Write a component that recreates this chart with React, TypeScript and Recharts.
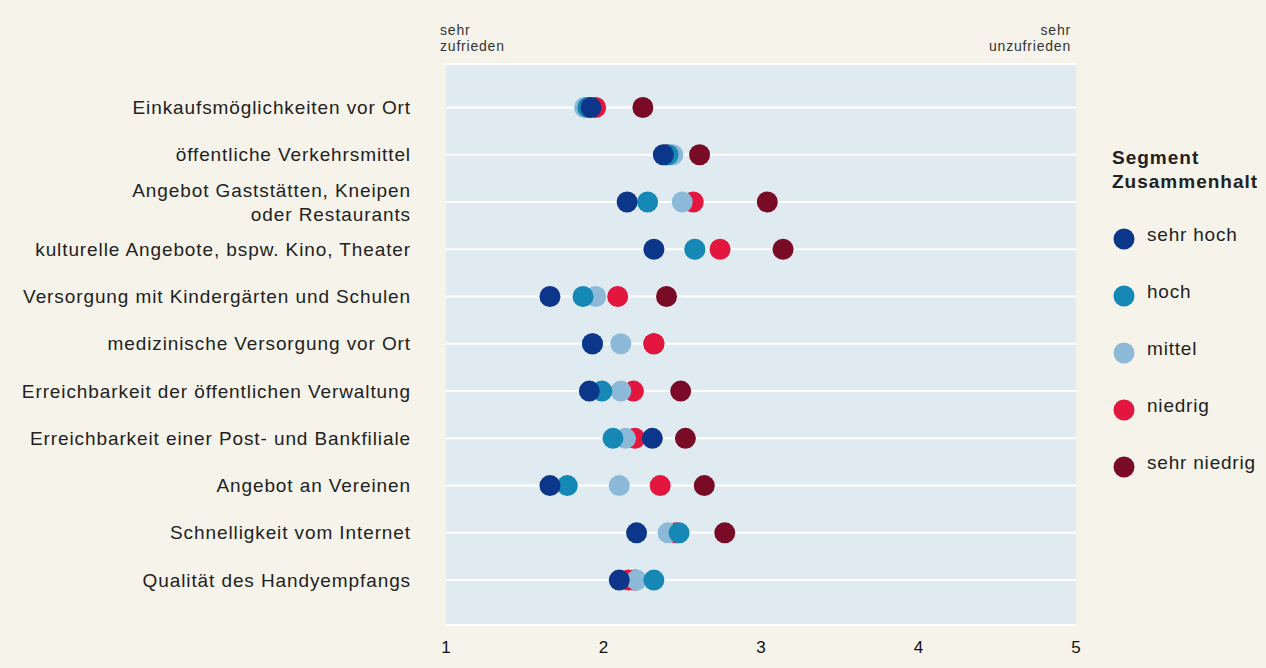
import React from "react";
import { CartesianGrid, Scatter, ScatterChart, XAxis, YAxis } from "recharts";

const categories = [
  "Einkaufsmöglichkeiten vor Ort",
  "öffentliche Verkehrsmittel",
  "Angebot Gaststätten, Kneipen\noder Restaurants",
  "kulturelle Angebote, bspw. Kino, Theater",
  "Versorgung mit Kindergärten und Schulen",
  "medizinische Versorgung vor Ort",
  "Erreichbarkeit der öffentlichen Verwaltung",
  "Erreichbarkeit einer Post- und Bankfiliale",
  "Angebot an Vereinen",
  "Schnelligkeit vom Internet",
  "Qualität des Handyempfangs",
];

const sehrHoch = [1.92, 2.38, 2.15, 2.32, 1.66, 1.93, 1.91, 2.31, 1.66, 2.21, 2.1];
const hoch = [1.9, 2.41, 2.28, 2.58, 1.87, 1.93, 1.99, 2.06, 1.77, 2.48, 2.32];
const mittel = [1.88, 2.44, 2.5, 2.58, 1.95, 2.11, 2.11, 2.14, 2.1, 2.41, 2.21];
const niedrig = [1.95, 2.4, 2.57, 2.74, 2.09, 2.32, 2.19, 2.2, 2.36, 2.46, 2.16];
const sehrNiedrig = [2.25, 2.61, 3.04, 3.14, 2.4, 2.32, 2.49, 2.52, 2.64, 2.77, 2.2];

const xTicks = [1, 2, 3, 4, 5];

// drawn bottom to top
const series = [
  { name: "sehr niedrig", color: "#7a0b26", values: sehrNiedrig },
  { name: "niedrig", color: "#e2163f", values: niedrig },
  { name: "mittel", color: "#8db9d8", values: mittel },
  { name: "hoch", color: "#1688b6", values: hoch },
  { name: "sehr hoch", color: "#0c3689", values: sehrHoch },
];

const legendOrder = ["sehr hoch", "hoch", "mittel", "niedrig", "sehr niedrig"];

const font = "'Liberation Sans', Arial, sans-serif";

const CategoryTick = (props: any) => {
  const { x, y, payload } = props;
  const label = categories[payload.value] ?? "";
  const lines = label.split("\n");
  const lh = 24;
  const start = y - ((lines.length - 1) * lh) / 2;
  return (
    <text
      x={x - 27}
      y={start}
      textAnchor="end"
      fontSize={19}
      letterSpacing={0.9}
      fill="#222"
      fontFamily={font}
    >
      {lines.map((l: string, i: number) => (
        <tspan key={i} x={x - 27} y={start + i * lh} dy="0.35em">
          {l}
        </tspan>
      ))}
    </text>
  );
};

const LegendBox = () => (
  <div
    style={{
      position: "absolute",
      left: 1112,
      top: 146,
      fontFamily: font,
      color: "#222",
    }}
  >
    <div
      style={{ fontWeight: "bold", fontSize: 19, letterSpacing: 1, lineHeight: "24px" }}
    >
      Segment
      <br />
      Zusammenhalt
    </div>
    <div style={{ marginTop: 15 }}>
      {legendOrder.map((n) => {
        const s = series.find((d) => d.name === n)!;
        return (
          <div key={n} style={{ display: "flex", alignItems: "center", height: 57 }}>
            <svg width={24} height={24} style={{ marginRight: 11 }}>
              <circle cx={12} cy={13} r={10.5} fill={s.color} />
            </svg>
            <span style={{ fontSize: 19, letterSpacing: 0.8, marginTop: -6 }}>{n}</span>
          </div>
        );
      })}
    </div>
  </div>
);

export default function App() {
  return (
    <div
      style={{
        position: "absolute",
        left: 0,
        top: 0,
        width: 1266,
        height: 668,
        background: "#f5f3ea",
        fontFamily: font,
      }}
    >
      <div
        style={{
          position: "absolute",
          left: 440,
          top: 22,
          fontSize: 14,
          letterSpacing: 0.8,
          lineHeight: "16px",
          color: "#333",
        }}
      >
        sehr
        <br />
        zufrieden
      </div>
      <div
        style={{
          position: "absolute",
          right: 1266 - 1071,
          top: 22,
          fontSize: 14,
          letterSpacing: 0.8,
          lineHeight: "16px",
          color: "#333",
          textAlign: "right",
        }}
      >
        sehr
        <br />
        unzufrieden
      </div>
      <ScatterChart
        width={1266}
        height={668}
        margin={{ top: 64, right: 190, bottom: 0, left: 0 }}
      >
        <CartesianGrid
          vertical={false}
          stroke="#ffffff"
          strokeWidth={2}
          fill="#e0ebf1"
          fillOpacity={1}
        />
        <XAxis
          type="number"
          dataKey="x"
          domain={[1, 5]}
          ticks={xTicks}
          axisLine={false}
          tickLine={false}
          tickSize={0}
          tickMargin={16}
          height={43}
          tick={{ fontSize: 17, fill: "#111", fontFamily: font }}
        />
        <YAxis
          type="number"
          dataKey="y"
          reversed
          domain={[-0.92, 10.95]}
          ticks={categories.map((_, i) => i)}
          interval={0}
          axisLine={false}
          tickLine={false}
          width={446}
          tick={<CategoryTick />}
        />
        {series.map((s) => (
          <Scatter
            key={s.name}
            name={s.name}
            data={s.values.map((v, i) => ({ x: v, y: i }))}
            fill={s.color}
            isAnimationActive={false}
            shape={(p: any) => (
              <circle cx={p.cx} cy={p.cy} r={10.5} fill={s.color} />
            )}
          />
        ))}
      </ScatterChart>
      <LegendBox />
    </div>
  );
}
